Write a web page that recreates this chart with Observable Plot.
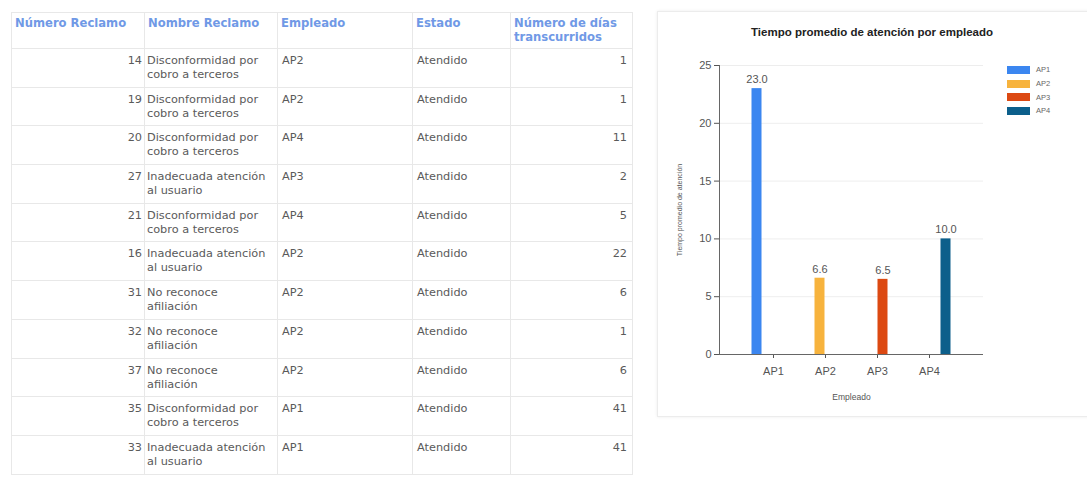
<!DOCTYPE html>
<html><head><meta charset="utf-8">
<script src="https://cdn.jsdelivr.net/npm/d3@7"></script>
<script src="https://cdn.jsdelivr.net/npm/@observablehq/plot@0.6"></script>
<style>
body{margin:0;background:#fff;width:1087px;height:480px;overflow:hidden;position:relative;font-family:"DejaVu Sans",sans-serif}
#tbl{position:absolute;left:11px;top:12px;border-collapse:collapse;table-layout:fixed;font-size:11.3px;color:#5a5a5a}
#tbl th,#tbl td{border:1px solid #e8e8e8;vertical-align:top;padding:0 4px;line-height:14px}
#tbl th{height:36px;text-align:left;font-weight:bold;font-size:11.6px;color:#7099e6;padding:3px 2px 0 3px;box-sizing:border-box}
#tbl td{height:38.7px;box-sizing:border-box;padding-top:5px}
#tbl td.num{text-align:right;padding-right:2px}
#tbl td.name{padding-left:2px;padding-right:6px}
#tbl td.dias{text-align:right;padding-right:5px}
#panel{position:absolute;left:657px;top:11px;width:440px;height:406px;border:1px solid #ececec;box-shadow:0 0 3px rgba(0,0,0,0.08);box-sizing:border-box}
#title{position:absolute;left:657px;width:430px;top:26px;text-align:center;font:bold 11.5px "Liberation Sans",Arial,sans-serif;color:#222}
#chart{position:absolute;left:660px;top:45px}
#chart svg{font-family:"Liberation Sans",Arial,sans-serif}
#chart g[aria-label="y-axis label"] text{font-size:7px}
#chart g[aria-label="x-axis label"] text{font-size:8.5px}
#legend{position:absolute;left:1007px;top:63px;font:7.5px "Liberation Sans",Arial,sans-serif;color:#666}
#legend div{display:flex;align-items:center;height:13.7px}
#legend span.sw{display:inline-block;width:23px;height:8px;margin-right:6px}
</style></head>
<body>
<table id="tbl"></table>
<div id="panel"></div>
<div id="title"></div>
<div id="chart"></div>
<div id="legend"></div>
<script>
// Table data
const headers = ["Número Reclamo", "Nombre Reclamo", "Empleado", "Estado", "Número de días transcurridos"];
const colWidths = [133, 133, 135, 98, 122];
const numeroReclamo = [14, 19, 20, 27, 21, 16, 31, 32, 37, 35, 33];
const nombreReclamo = [
  "Disconformidad por cobro a terceros",
  "Disconformidad por cobro a terceros",
  "Disconformidad por cobro a terceros",
  "Inadecuada atención al usuario",
  "Disconformidad por cobro a terceros",
  "Inadecuada atención al usuario",
  "No reconoce afiliación",
  "No reconoce afiliación",
  "No reconoce afiliación",
  "Disconformidad por cobro a terceros",
  "Inadecuada atención al usuario"
];
const empleado = ["AP2", "AP2", "AP4", "AP3", "AP4", "AP2", "AP2", "AP2", "AP2", "AP1", "AP1"];
const estado = ["Atendido", "Atendido", "Atendido", "Atendido", "Atendido", "Atendido", "Atendido", "Atendido", "Atendido", "Atendido", "Atendido"];
const diasTranscurridos = [1, 1, 11, 2, 5, 22, 6, 1, 6, 41, 41];

// Chart data
const chartTitle = "Tiempo promedio de atención por empleado";
const employees = ["AP1", "AP2", "AP3", "AP4"];
const promedio = [23.0, 6.6, 6.5, 10.0];
const colors = ["#3b86f0", "#f7b33d", "#dc4912", "#0c5f8b"];
const yTicks = [0, 5, 10, 15, 20, 25];
const yLabel = "Tiempo promedio de atención";
const xLabel = "Empleado";

// Build table
const tbl = document.getElementById("tbl");
const cg = document.createElement("colgroup");
colWidths.forEach(w => { const c = document.createElement("col"); c.style.width = w + "px"; cg.appendChild(c); });
tbl.appendChild(cg);
const hr = document.createElement("tr");
headers.forEach(h => { const th = document.createElement("th"); th.textContent = h; hr.appendChild(th); });
tbl.appendChild(hr);
numeroReclamo.forEach((n, i) => {
  const tr = document.createElement("tr");
  const cells = [[n, "num"], [nombreReclamo[i], "name"], [empleado[i], ""], [estado[i], ""], [diasTranscurridos[i], "dias"]];
  cells.forEach(([v, cls]) => { const td = document.createElement("td"); td.textContent = v; if (cls) td.className = cls; tr.appendChild(td); });
  tbl.appendChild(tr);
});

// Chart
document.getElementById("title").textContent = chartTitle;
const data = employees.map((e, i) => ({emp: e, val: promedio[i], idx: i}));
const W = 330, ML = 59, MR = 7, PI = 0.16, PO = 0.6;
const bw = (W - ML - MR) * (1 - PI) / (employees.length - PI + 2 * PO);
const sub = bw / employees.length;

const marks = [
  Plot.gridY(yTicks.filter(t => t > 0), {stroke: "#000", strokeOpacity: 0.07}),
];
data.forEach((d, i) => {
  marks.push(Plot.barY([d], {
    x: "emp", y: "val", fill: "emp",
    insetLeft: i * sub + 0.5, insetRight: (employees.length - 1 - i) * sub + 0.5
  }));
  marks.push(Plot.text([d], {
    x: "emp", y: "val", text: d => d.val.toFixed(1),
    dx: (i - (employees.length - 1) / 2) * sub, dy: -9,
    fill: "#555", fontSize: 11
  }));
});
marks.push(Plot.axisY({ticks: yTicks, tickSize: 5, tickPadding: 3, fontSize: 11, color: "#555",
  label: yLabel, labelAnchor: "center", labelOffset: 42, labelArrow: "none"}));
marks.push(Plot.axisX({tickSize: 4, tickPadding: 9, fontSize: 11, color: "#555",
  label: xLabel, labelAnchor: "center", labelOffset: 45, labelArrow: "none"}));
marks.push(Plot.ruleY([0], {stroke: "#666"}));
marks.push(Plot.frame({anchor: "left", stroke: "#666"}));

const chart = Plot.plot({
  width: W, height: 364,
  marginLeft: ML, marginRight: MR, marginTop: 20, marginBottom: 55,
  x: {domain: employees, paddingInner: PI, paddingOuter: PO},
  y: {domain: [0, 25]},
  color: {domain: employees, range: colors},
  style: {background: "transparent", color: "#555"},
  marks
});
document.getElementById("chart").appendChild(chart);

// Legend
const lg = document.getElementById("legend");
employees.forEach((e, i) => {
  const row = document.createElement("div");
  const sw = document.createElement("span"); sw.className = "sw"; sw.style.background = colors[i];
  const lb = document.createElement("span"); lb.textContent = e;
  row.appendChild(sw); row.appendChild(lb); lg.appendChild(row);
});
</script>
</body></html>
